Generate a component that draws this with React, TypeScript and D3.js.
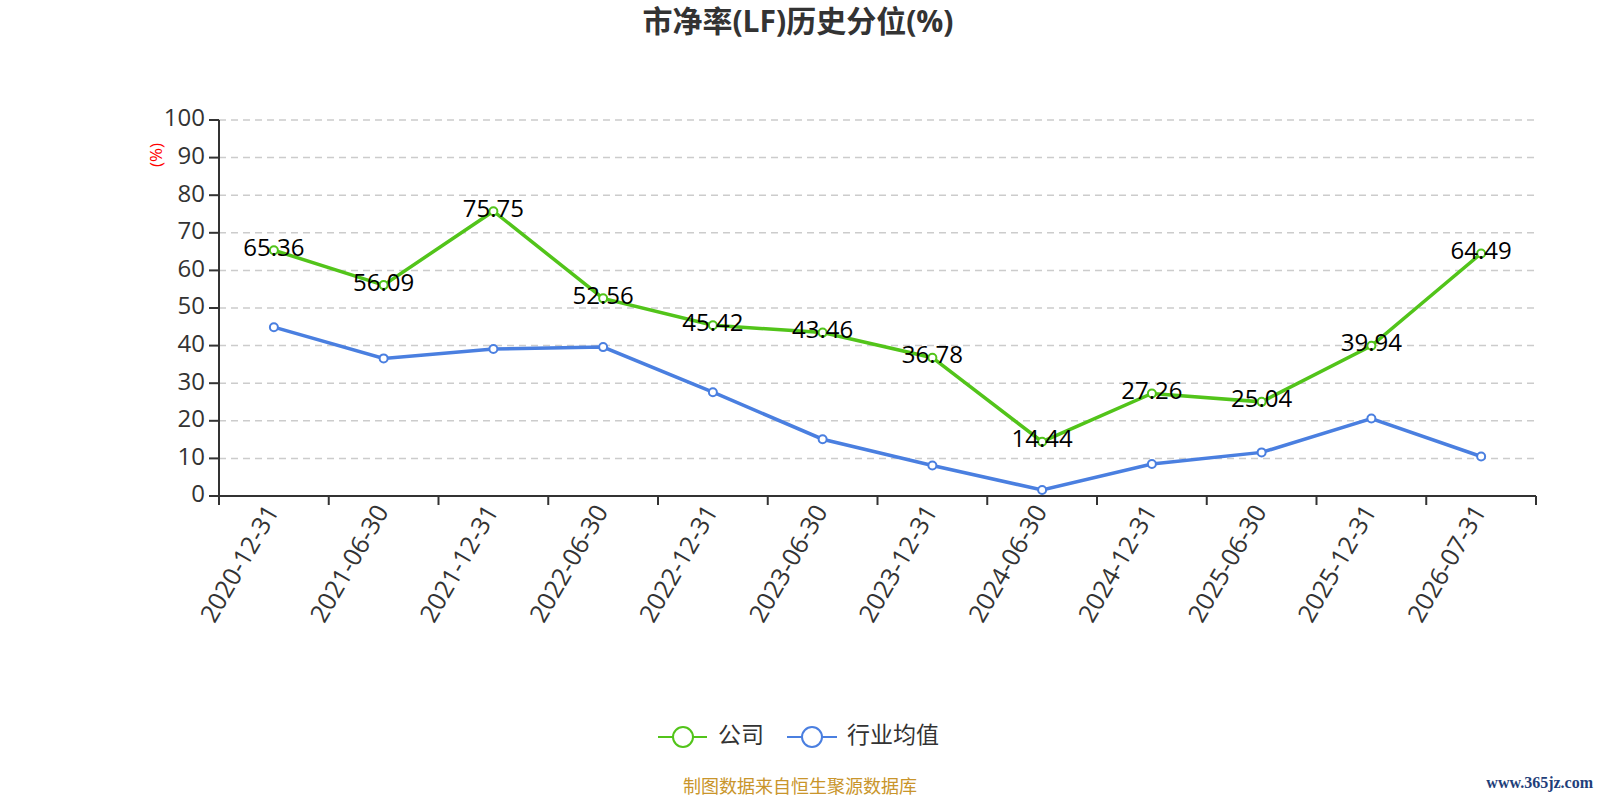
import React from 'react';
import * as d3 from 'd3';

const categories = ['2020-12-31','2021-06-30','2021-12-31','2022-06-30','2022-12-31','2023-06-30','2023-12-31','2024-06-30','2024-12-31','2025-06-30','2025-12-31','2026-07-31'];
const companyValues = [65.36, 56.09, 75.75, 52.56, 45.42, 43.46, 36.78, 14.44, 27.26, 25.04, 39.94, 64.49];
const industryValues = [44.9, 36.6, 39.1, 39.6, 27.6, 15.1, 8.1, 1.6, 8.5, 11.6, 20.6, 10.5];
const yTicks = [0, 10, 20, 30, 40, 50, 60, 70, 80, 90, 100];
const titleText = '市净率(LF)历史分位(%)';
const seriesNames = ['公司', '行业均值'];
const footerText = '制图数据来自恒生聚源数据库';
const watermarkText = 'www.365jz.com';

const GREEN = '#52c41a';
const BLUE = '#4a7fe0';
const FONT = "'Open Sans', 'Noto Sans CJK SC', sans-serif";

export default function App() {
  const W = 1600, H = 800;
  const left = 219, right = 1536, top = 120, bottom = 496;
  const x = d3.scaleBand<string>().domain(categories).range([left, right]);
  const y = d3.scaleLinear().domain([0, 100]).range([bottom, top]);
  const cx = (c: string) => (x(c) as number) + x.bandwidth() / 2;
  const line = d3.line<number>().x((_, i) => cx(categories[i])).y((d) => y(d));
  const tickXs = categories.map((c) => x(c) as number).concat([right]);

  return (
    <svg width={W} height={H} style={{ position: 'absolute', left: 0, top: 0, background: '#fff' }} fontFamily={FONT}>
      <text x={798} y={24} textAnchor="middle" dominantBaseline="middle" fontSize={30} fontWeight="bold" fill="#333">{titleText}</text>

      {yTicks.map((t) => t === 0 ? null : (
        <line key={'g' + t} x1={left} x2={right} y1={y(t)} y2={y(t)} stroke="#ccc" strokeWidth={1.5} strokeDasharray="7,5" />
      ))}

      {/* y axis */}
      <line x1={left} x2={left} y1={top} y2={bottom} stroke="#333" strokeWidth={2} />
      {yTicks.map((t) => (
        <g key={'y' + t}>
          <line x1={left - 10} x2={left} y1={y(t)} y2={y(t)} stroke="#333" strokeWidth={2} />
          <text x={left - 14} y={y(t)} textAnchor="end" dominantBaseline="middle" fontSize={24} fill="#333">{t}</text>
        </g>
      ))}
      <text transform={`translate(157,155) rotate(-90)`} textAnchor="middle" dominantBaseline="middle" fontSize={17} fill="red">(%)</text>

      {/* x axis */}
      <line x1={left} x2={right} y1={bottom} y2={bottom} stroke="#333" strokeWidth={2} />
      {tickXs.map((tx, i) => (
        <line key={'xt' + i} x1={tx} x2={tx} y1={bottom} y2={bottom + 9} stroke="#333" strokeWidth={2} />
      ))}
      {categories.map((c) => (
        <text key={'xl' + c} transform={`translate(${cx(c)},${bottom + 12}) rotate(-60)`} textAnchor="end" dominantBaseline="middle" fontSize={25} fill="#333">{c}</text>
      ))}

      {/* series */}
      <path d={line(industryValues) || ''} fill="none" stroke={BLUE} strokeWidth={3.5} />
      <path d={line(companyValues) || ''} fill="none" stroke={GREEN} strokeWidth={3.5} />
      {industryValues.map((v, i) => (
        <circle key={'bp' + i} cx={cx(categories[i])} cy={y(v)} r={4} fill="#fff" stroke={BLUE} strokeWidth={2} />
      ))}
      {companyValues.map((v, i) => (
        <circle key={'gp' + i} cx={cx(categories[i])} cy={y(v)} r={4} fill="#fff" stroke={GREEN} strokeWidth={2} />
      ))}
      {companyValues.map((v, i) => (
        <text key={'gl' + i} x={cx(categories[i])} y={y(v) - 1} textAnchor="middle" dominantBaseline="middle" fontSize={24} fill="#000">{v.toFixed(2)}</text>
      ))}

      {/* legend */}
      <g>
        <line x1={658} x2={707} y1={737} y2={737} stroke={GREEN} strokeWidth={2} />
        <circle cx={683} cy={737} r={10} fill="#fff" stroke={GREEN} strokeWidth={2} />
        <text x={718} y={737} dominantBaseline="middle" fontSize={23} fill="#333">{seriesNames[0]}</text>
        <line x1={787} x2={837} y1={737} y2={737} stroke={BLUE} strokeWidth={2} />
        <circle cx={812} cy={737} r={10} fill="#fff" stroke={BLUE} strokeWidth={2} />
        <text x={847} y={737} dominantBaseline="middle" fontSize={23} fill="#333">{seriesNames[1]}</text>
      </g>

      <text x={800} y={788} textAnchor="middle" dominantBaseline="middle" fontSize={18} fill="#c9952b">{footerText}</text>
      <text x={1593} y={784} textAnchor="end" dominantBaseline="middle" fontSize={16} fontWeight="bold" fontFamily="'Liberation Serif', serif" fill="#1f3f7a">{watermarkText}</text>
    </svg>
  );
}
